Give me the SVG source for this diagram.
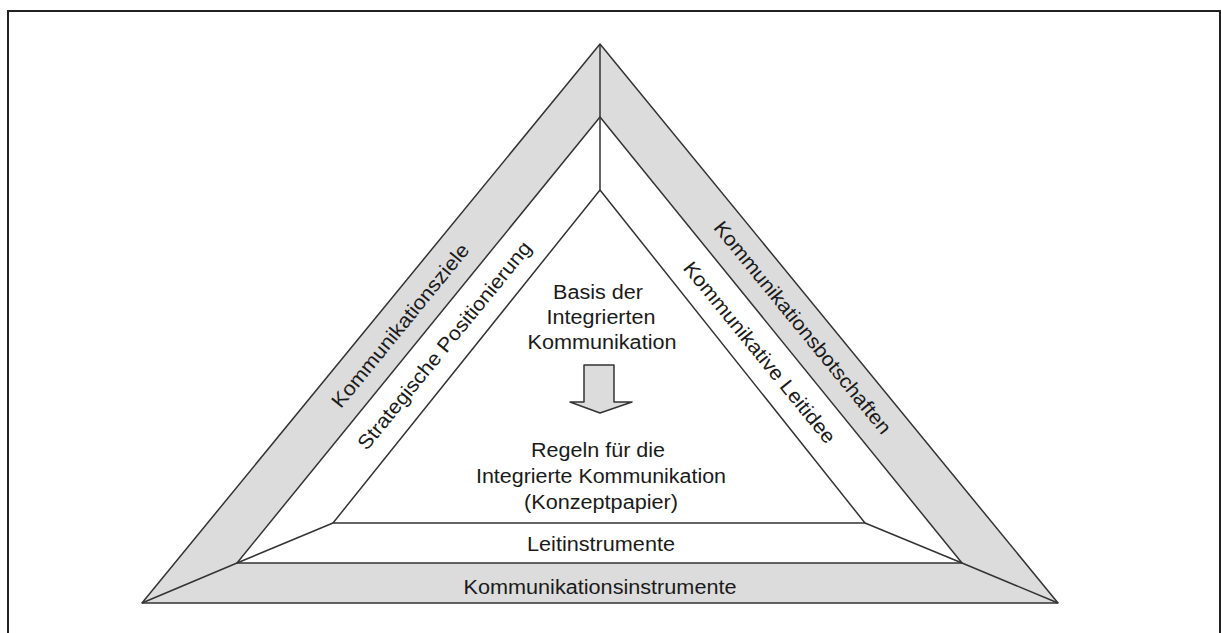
<svg xmlns="http://www.w3.org/2000/svg" width="1221" height="633" viewBox="0 0 1221 633">
  <style>
    .edge { stroke: #333; stroke-width: 1.5; stroke-linejoin: round; }
    .shade { fill: #dcdcdc; }
    .plain { fill: #ffffff; }
    .lbl { font-family: "Liberation Sans", Arial, sans-serif; font-size: 20px; fill: #1a1a1a; text-anchor: middle; }
  </style>

  <!-- outer frame -->
  <path id="frame" d="M8,640 V11 H1220 V640" fill="none" stroke="#222" stroke-width="2"/>

  <!-- outer ring: goals, messages, instruments -->
  <g id="outer-ring">
    <polygon class="shade edge" points="600,44 1058,603 142,603"/>
  </g>

  <!-- middle ring: positioning, guiding idea, lead instruments -->
  <g id="middle-ring">
    <polygon class="plain edge" points="600,117 962,563 237,563"/>
  </g>

  <!-- core: basis and rules -->
  <g id="core">
    <polygon class="plain edge" points="600,190 865,523 333,523"/>
    <text class="lbl" x="598" y="299" textLength="90" lengthAdjust="spacingAndGlyphs">Basis der</text>
    <text class="lbl" x="601" y="324" textLength="109" lengthAdjust="spacingAndGlyphs">Integrierten</text>
    <text class="lbl" x="602" y="349" textLength="149" lengthAdjust="spacingAndGlyphs">Kommunikation</text>
    <path id="down-arrow" class="shade edge" d="M584,365 H614 V402 H632 L600,413 L570,402 H584 Z"/>
    <text class="lbl" x="598" y="457" textLength="134" lengthAdjust="spacingAndGlyphs">Regeln für die</text>
    <text class="lbl" x="601" y="483" textLength="250" lengthAdjust="spacingAndGlyphs">Integrierte Kommunikation</text>
    <text class="lbl" x="601" y="509" textLength="154" lengthAdjust="spacingAndGlyphs">(Konzeptpapier)</text>
  </g>

  <!-- dividers between the sectors -->
  <g id="connectors" fill="none">
    <line class="edge" x1="600" y1="44" x2="600" y2="190"/>
    <polyline class="edge" points="142,603 237,563 333,523"/>
    <polyline class="edge" points="1058,603 962,563 865,523"/>
  </g>

  <!-- side labels -->
  <g id="label-ziele">
    <text class="lbl" transform="translate(401,326) rotate(-50.8)" x="0" y="6" textLength="205" lengthAdjust="spacingAndGlyphs">Kommunikationsziele</text>
  </g>
  <g id="label-positionierung">
    <text class="lbl" transform="translate(445,346) rotate(-50.8)" x="0" y="6" textLength="262" lengthAdjust="spacingAndGlyphs">Strategische Positionierung</text>
  </g>
  <g id="label-botschaften">
    <text class="lbl" transform="translate(802,328) rotate(50.8)" x="0" y="6" textLength="268" lengthAdjust="spacingAndGlyphs">Kommunikationsbotschaften</text>
  </g>
  <g id="label-leitidee">
    <text class="lbl" transform="translate(759,353) rotate(50.8)" x="0" y="6" textLength="228" lengthAdjust="spacingAndGlyphs">Kommunikative Leitidee</text>
  </g>
  <g id="label-leitinstrumente">
    <text class="lbl" x="601" y="551" textLength="148" lengthAdjust="spacingAndGlyphs">Leitinstrumente</text>
  </g>
  <g id="label-kommunikationsinstrumente">
    <text class="lbl" x="600" y="594" textLength="273" lengthAdjust="spacingAndGlyphs">Kommunikationsinstrumente</text>
  </g>
</svg>
